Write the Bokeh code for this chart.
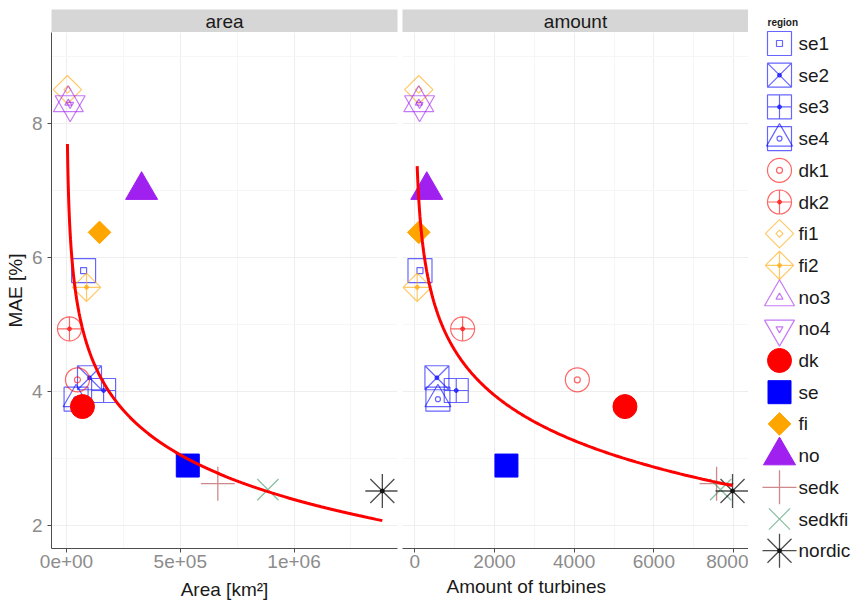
import numpy as np
from bokeh.plotting import figure
from bokeh.models import Range1d, FixedTicker, Title
from bokeh.layouts import row, column
from bokeh.embed import file_html
from bokeh.resources import INLINE
from bokeh.core.properties import value

# ---------------------------------------------------------------- data
regions = ["se1", "se2", "se3", "se4", "dk1", "dk2", "fi1", "fi2", "no3", "no4",
           "dk", "se", "fi", "no", "sedk", "sedkfi", "nordic"]
mae = [5.80, 4.20, 4.01, 3.88, 4.17, 4.93, 8.50, 5.55, 8.30, 8.28,
       3.77, 2.89, 6.37, 7.00, 2.62, 2.53, 2.51]
area_km2 = [75000, 101000, 163000, 42000, 48000, 13000, 4000, 88000, 8000, 16000,
            70000, 533000, 145000, 330000, 665000, 885000, 1388000]
turbines = [130, 555, 1040, 580, 4080, 1200, 100, 60, 100, 120,
            5275, 2300, 100, 300, 7575, 7675, 7975]

facets = ["area", "amount"]
x_titles = ["Area [km\u00b2]", "Amount of turbines"]
y_title = "MAE [%]"
legend_title = "region"

y_ticks = [2, 4, 6, 8]
y_minor = [3, 5, 7, 9]
area_ticks = [0, 500000, 1000000]
area_tick_labels = ["0e+00", "5e+05", "1e+06"]
area_minor = [250000, 750000, 1250000]
turb_ticks = [0, 2000, 4000, 6000, 8000]
turb_minor = [1000, 3000, 5000, 7000]

# logarithmic trend  MAE = a + b * ln(x)
fit_area = (15.66, -0.961)
fit_turbines = (11.35, -0.975)

# ---------------------------------------------------------------- styles
FONT = "Liberation Sans"
BLUE, RED, ORANGE, PURPLE = "#0000FF", "#FF0000", "#FFA500", "#A020F0"
Q = np.pi / 4

# each part: (marker, size, angle, filled, line_width)
styles = {
    "se1": (BLUE, 0.6, [("square", 24, 0, False, 1.2), ("square", 6, 0, False, 1.2)]),
    "se2": (BLUE, 0.6, [("square_x", 24, 0, False, 1.2), ("circle", 4, 0, True, 1)]),
    "se3": (BLUE, 0.6, [("square_cross", 24, 0, False, 1.2), ("circle", 4, 0, True, 1)]),
    "se4": (BLUE, 0.6, [("square", 24, 0, False, 1.2), ("triangle", 26, 0, False, 1.2),
                        ("circle", 5, 0, False, 1.2)]),
    "dk1": (RED, 0.6, [("circle", 24, 0, False, 1.2), ("circle", 6, 0, False, 1.2)]),
    "dk2": (RED, 0.6, [("circle_cross", 24, 0, False, 1.2), ("circle", 4, 0, True, 1)]),
    "fi1": (ORANGE, 0.6, [("square", 20, Q, False, 1.2), ("square", 5, Q, False, 1.2)]),
    "fi2": (ORANGE, 0.6, [("square_x", 20, Q, False, 1.2), ("circle", 4, 0, True, 1)]),
    "no3": (PURPLE, 0.6, [("triangle", 30, 0, False, 1.2), ("triangle", 7, 0, False, 1.2)]),
    "no4": (PURPLE, 0.6, [("inverted_triangle", 30, 0, False, 1.2),
                          ("inverted_triangle", 7, 0, False, 1.2)]),
    "dk": (RED, 1.0, [("circle", 24, 0, True, 1)]),
    "se": (BLUE, 1.0, [("square", 23, 0, True, 1)]),
    "fi": (ORANGE, 1.0, [("square", 16, Q, True, 1)]),
    "no": (PURPLE, 1.0, [("triangle", 32, 0, True, 1)]),
    "sedk": ("#A52A2A", 0.55, [("cross", 34, 0, False, 1.3)]),
    "sedkfi": ("#2E8B57", 0.55, [("x", 30, 0, False, 1.3)]),
    "nordic": ("#000000", 0.7, [("asterisk", 34, 0, False, 1.3), ("circle", 4, 0, True, 1)]),
}


def draw_region(p, name, x, y):
    color, alpha, parts = styles[name]
    for marker, size, angle, filled, lw in parts:
        p.scatter(x=[x], y=[y], marker=marker, size=size, angle=angle,
                  line_color=color, line_alpha=alpha, line_width=lw,
                  fill_color=color if filled else None, fill_alpha=alpha)


def strip(label, left, right):
    s = figure(frame_width=346, frame_height=23, min_border_left=left,
               min_border_right=right, min_border_top=9, min_border_bottom=0,
               x_range=Range1d(0, 1), y_range=Range1d(0, 1),
               x_axis_location=None, y_axis_location=None,
               toolbar_location=None, output_backend="svg")
    s.grid.visible = False
    s.outline_line_color = None
    s.background_fill_color = "#D6D6D6"
    s.text(x=[0.5], y=[0.5], text=[label], text_align="center",
           text_baseline="middle", text_font=value(FONT),
           text_font_size="19px", text_color="#1A1A1A")
    return s


def panel(xvals, fit, x_range, ticks, minor, left, right, show_y):
    p = figure(frame_width=346, frame_height=516, min_border_left=left,
               min_border_right=right, min_border_top=0, min_border_bottom=54,
               x_range=x_range, y_range=Range1d(1.652, 9.353),
               y_axis_location="left" if show_y else None,
               toolbar_location=None, output_backend="svg")
    p.outline_line_color = None
    p.background_fill_color = "white"

    p.xaxis.ticker = FixedTicker(ticks=ticks, minor_ticks=minor)
    p.xgrid.ticker = FixedTicker(ticks=ticks, minor_ticks=minor)
    p.ygrid.ticker = FixedTicker(ticks=y_ticks, minor_ticks=y_minor)
    for g in (p.xgrid, p.ygrid):
        g.grid_line_color = "#EEEEEE"
        g.minor_grid_line_color = "#F6F6F6"

    axes = list(p.xaxis) + (list(p.yaxis) if show_y else [])
    for ax in axes:
        ax.axis_line_color = "#4D4D4D"
        ax.major_tick_line_color = "#4D4D4D"
        ax.major_tick_out = 4
        ax.major_tick_in = 0
        ax.minor_tick_line_color = None
        ax.major_label_text_font = FONT
        ax.major_label_text_font_size = "19px"
        ax.major_label_text_color = "#8C8C8C"
        ax.axis_label_text_font = FONT
        ax.axis_label_text_font_size = "19px"
        ax.axis_label_text_font_style = "normal"
        ax.axis_label_text_color = "#1A1A1A"
    p.xaxis.major_label_standoff = 2
    p.xaxis.axis_label_standoff = 8
    if show_y:
        p.yaxis.ticker = FixedTicker(ticks=y_ticks, minor_ticks=y_minor)
        p.yaxis.axis_label = y_title
        p.yaxis.major_label_standoff = 5
        p.yaxis.axis_label_standoff = 3

    for name, xv, yv in zip(regions, xvals, mae):
        draw_region(p, name, xv, yv)

    xs = np.geomspace(min(xvals), max(xvals), 300)
    p.line(xs, fit[0] + fit[1] * np.log(xs), line_color=RED, line_width=3)
    return p


p1 = panel(area_km2, fit_area, Range1d(-66000, 1454700),
           area_ticks, area_minor, 51, 5, True)
p1.xaxis.major_label_overrides = dict(zip(area_ticks, area_tick_labels))
p1.xaxis.axis_label = x_titles[0]

p2 = panel(turbines, fit_turbines, Range1d(-309, 8376),
           turb_ticks, turb_minor, 0, 0, False)
# x title of the turbine panel sits left of centre
p2.add_layout(Title(text=x_titles[1], align="left", offset=44, standoff=6,
                    text_font=FONT, text_font_size="19px", text_font_style="normal",
                    text_color="#1A1A1A"), "below")

s1 = strip(facets[0], 51, 5)
s2 = strip(facets[1], 0, 0)

# ---------------------------------------------------------------- legend
leg = figure(width=108, height=602, x_range=Range1d(0, 108), y_range=Range1d(602, 0),
             x_axis_location=None, y_axis_location=None, min_border=0,
             toolbar_location=None, output_backend="svg")
leg.grid.visible = False
leg.outline_line_color = None
LEG_TOP, LEG_STEP, KEY_X, TEXT_X = 43, 31.7, 31, 50
leg.text(x=[19], y=[22], text=[legend_title], text_align="left", text_baseline="middle",
         text_font=value(FONT), text_font_size="10px", text_font_style="bold",
         text_color="#1A1A1A")
for i, name in enumerate(regions):
    draw_region(leg, name, KEY_X, LEG_TOP + i * LEG_STEP)
leg.text(x=[TEXT_X] * len(regions), y=[LEG_TOP + i * LEG_STEP for i in range(len(regions))],
         text=regions, text_align="left", text_baseline="middle",
         text_font=value(FONT), text_font_size="19px", text_color="#1A1A1A")

layout = row(column(s1, p1), column(s2, p2), leg)
open("out.html", "w").write(file_html(layout, INLINE))
